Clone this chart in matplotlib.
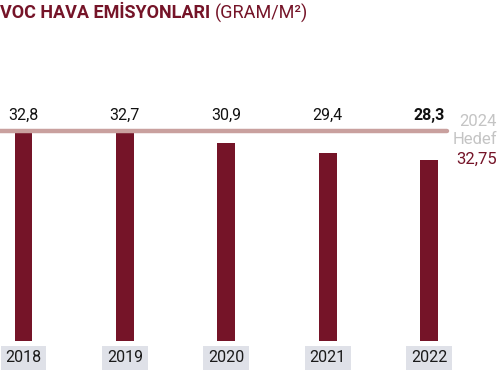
import matplotlib
matplotlib.use("Agg")
import matplotlib.pyplot as plt
from matplotlib.transforms import blended_transform_factory

years = ["2018", "2019", "2020", "2021", "2022"]
values = [32.8, 32.7, 30.9, 29.4, 28.3]
value_labels = ["32,8", "32,7", "30,9", "29,4", "28,3"]
target = 32.75
target_label = "32,75"

BAR = "#751428"
LINE = "#c9a09e"
BOX = "#dfe1e8"
FONT = "Roboto"

W, H = 502, 371
fig = plt.figure(figsize=(W / 100, H / 100), dpi=100)
fig.patch.set_facecolor("white")

# axes: zero baseline at pixel y=341 from top
ax = fig.add_axes([0, 30 / H, 1, 341 / H])
ax.set_xlim(-0.232, 4.719)
ax.set_ylim(0, 341 / 6.4)
ax.axis("off")

x = list(range(len(years)))
ax.bar(x, values, width=0.175, color=BAR, zorder=2)

# target line
ax.plot([-0.232, 4.18], [target, target], color=LINE, lw=3.2,
        solid_capstyle="round", zorder=3)

for i, (v, lab) in enumerate(zip(values, value_labels)):
    ax.text(i, target + 1.3, lab, ha="center", va="bottom",
            fontsize=11.5, family=FONT, color="#111111",
            fontweight="bold" if i == len(years) - 1 else "normal", zorder=4)

# year labels with boxes
tr = blended_transform_factory(ax.transData, fig.transFigure)
for i, y in enumerate(years):
    ax.text(i, 1 - 358 / H, y, transform=tr, ha="center", va="center",
            fontsize=11.5, family=FONT, color="#1a1a1a",
            bbox=dict(boxstyle="square,pad=0.3", facecolor=BOX, edgecolor="none"))

# right-side target annotation
fig.text(497 / W, 1 - 121 / H, "2024", ha="right", va="center",
         fontsize=12, family=FONT, color="#c4c4c4")
fig.text(497 / W, 1 - 139 / H, "Hedef", ha="right", va="center",
         fontsize=12, family=FONT, color="#c4c4c4")
fig.text(497 / W, 1 - 159 / H, target_label, ha="right", va="center",
         fontsize=12, family=FONT, color=BAR)

# title
t1 = fig.text(0, 1 - 13 / H, "VOC HAVA EMİSYONLARI", ha="left", va="center",
              fontsize=13, family=FONT, fontweight="bold", color=BAR)
fig.canvas.draw()
bb = t1.get_window_extent()
fig.text(bb.x1 / W + 5 / W, 1 - 13 / H, "(GRAM/M²)", ha="left", va="center",
         fontsize=13, family=FONT, color=BAR)

fig.savefig("out.png", dpi=100)
